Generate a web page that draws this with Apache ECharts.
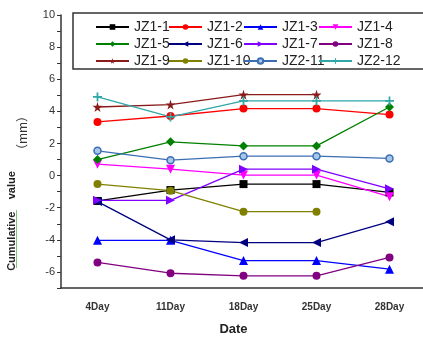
<!DOCTYPE html>
<html>
<head>
<meta charset="utf-8">
<script src="https://cdn.jsdelivr.net/npm/echarts@6/dist/echarts.min.js"></script>
<style>
  html, body { margin: 0; padding: 0; background: #fff; }
  #chart { width: 423px; height: 337px; }
</style>
</head>
<body>
<div id="chart"></div>
<script>
// days on the x axis
var days = ['4Day', '11Day', '18Day', '25Day', '28Day'];

// cumulative values (mm)
var jz1_1  = [-1.58, -0.9, -0.53, -0.53, -1.05];
var jz1_2  = [3.34, 3.71, 4.17, 4.17, 3.8];
var jz1_3  = [-4.03, -4.03, -5.29, -5.29, -5.83];
var jz1_4  = [0.71, 0.4, 0.03, 0.03, -1.31];
var jz1_5  = [1.0, 2.1, 1.85, 1.85, 4.27];
var jz1_6  = [-1.62, -4.0, -4.17, -4.17, -2.87];
var jz1_7  = [-1.54, -1.54, 0.4, 0.4, -0.82];
var jz1_8  = [-5.41, -6.08, -6.24, -6.24, -5.1];
var jz1_9  = [4.27, 4.42, 5.04, 5.04, null];
var jz1_10 = [-0.53, -0.94, -2.25, -2.25, null];
var jz2_11 = [1.54, 0.96, 1.21, 1.21, 1.07];
var jz2_12 = [4.9, 3.65, 4.65, 4.65, 4.65];

var names = ['JZ1-1', 'JZ1-2', 'JZ1-3', 'JZ1-4', 'JZ1-5', 'JZ1-6',
             'JZ1-7', 'JZ1-8', 'JZ1-9', 'JZ1-10', 'JZ2-11', 'JZ2-12'];
var values = [jz1_1, jz1_2, jz1_3, jz1_4, jz1_5, jz1_6,
              jz1_7, jz1_8, jz1_9, jz1_10, jz2_11, jz2_12];

var colors = ['#000000', '#ff0000', '#0000ff', '#ff00ff', '#008000', '#000080',
              '#8000ff', '#800080', '#8b1a1a', '#808000', '#3c6eb4', '#30a8a8'];

var star = 'path://M50,0 L61,35 L98,35 L68,57 L79,91 L50,70 L21,91 L32,57 L2,35 L39,35 Z';
var plus = 'path://M4,0 H6 V4 H10 V6 H6 V10 H4 V6 H0 V4 H4 Z';
var symbols = ['rect', 'circle', 'triangle', 'triangle', 'diamond', 'triangle',
               'triangle', 'circle', star, 'circle', 'circle', plus];
var rotates = [0, 0, 0, 180, 0, 90, -90, 0, 0, 0, 0, 0];
var sizes = [8, 8, 9, 9, 9, 9, 9, 8, 10, 8, 7, 9];

var series = [];
for (var i = 0; i < names.length; i++) {
    var s = {
        name: names[i],
        type: 'line',
        data: values[i],
        symbol: symbols[i],
        symbolRotate: rotates[i],
        symbolSize: sizes[i],
        color: colors[i],
        lineStyle: { width: 1.3, color: colors[i] },
        itemStyle: { color: colors[i] },
        animation: false
    };
    if (names[i] == 'JZ2-11') {
        s.itemStyle = { color: '#a8c6ea', borderColor: colors[i], borderWidth: 1.5 };
    }
    series.push(s);
}

// x of the line icon in each legend column
var legendCols = [95, 168, 243, 318];
var legends = legendCols.map(function (x, c) {
    return {
        orient: 'vertical',
        left: x - 5,
        top: 15,
        itemWidth: 33,
        itemHeight: 7,
        itemGap: 3,
        data: [names[c], names[c + 4], names[c + 8]],
        textStyle: { fontSize: 14, lineHeight: 14, color: '#222', fontFamily: 'Liberation Sans' }
    };
});

var option = {
    backgroundColor: '#fff',
    textStyle: { fontFamily: 'Liberation Sans' },
    grid: { left: 61, right: -3, top: 15, bottom: 49, outerBoundsMode: 'none' },
    legend: legends,
    graphic: [
        {
            type: 'rect',
            shape: { x: 73, y: 13, width: 360, height: 56 },
            style: { fill: 'none', stroke: '#333', lineWidth: 1.5 },
            z: 100
        },
        {
            type: 'text',
            x: 12,
            y: 221,
            rotation: Math.PI / 2,
            style: {
                text: 'Cumulative    value',
                align: 'center',
                verticalAlign: 'middle',
                fontSize: 11,
                fontWeight: 'bold',
                fill: '#222',
                fontFamily: 'Liberation Sans'
            }
        },
        {
            type: 'text',
            x: 22,
            y: 133,
            rotation: Math.PI / 2,
            style: {
                text: '（mm）',
                align: 'center',
                verticalAlign: 'middle',
                fontSize: 12,
                fill: '#333',
                fontFamily: 'Noto Sans CJK SC'
            }
        },
        {
            type: 'rect',
            shape: { x: 16, y: 210, width: 1, height: 58 },
            style: { fill: '#7cc47c' }
        }
    ],
    xAxis: {
        type: 'category',
        data: days,
        boundaryGap: true,
        name: 'Date',
        nameLocation: 'middle',
        nameGap: 35,
        nameTextStyle: { fontSize: 13, fontWeight: 'bold', color: '#222', padding: [0, 20, 0, 0] },
        axisLine: { onZero: false, lineStyle: { color: '#333', width: 1.5 } },
        axisTick: { inside: true, length: 4, lineStyle: { color: '#333' } },
        axisLabel: { fontSize: 10, fontWeight: 'bold', color: '#333', margin: 14 },
        splitLine: { show: false }
    },
    yAxis: {
        type: 'value',
        min: -7,
        max: 10,
        interval: 1,
        axisLine: { show: true, onZero: false, lineStyle: { color: '#333', width: 1.5 } },
        axisTick: { show: true, length: 4, lineStyle: { color: '#333' } },
        axisLabel: {
            fontSize: 11,
            color: '#333',
            margin: 6,
            formatter: function (v) { return v % 2 == 0 ? v : ''; }
        },
        splitLine: { show: false }
    },
    series: series
};

var chart = echarts.init(document.getElementById('chart'));
chart.setOption(option);
</script>
</body>
</html>
